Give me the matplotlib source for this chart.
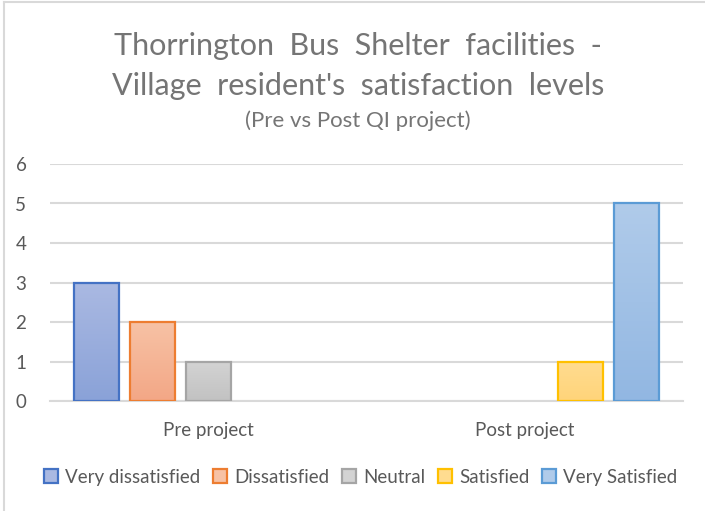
import numpy as np
import matplotlib.pyplot as plt
from matplotlib.lines import Line2D
from matplotlib.patches import Rectangle

plt.rcParams['font.family'] = ['Lato', 'DejaVu Sans']

categories = ['Pre project', 'Post project']
series = ['Very dissatisfied', 'Dissatisfied', 'Neutral', 'Satisfied', 'Very Satisfied']
values = [
    [3, 0],  # Very dissatisfied
    [2, 0],  # Dissatisfied
    [1, 0],  # Neutral
    [0, 1],  # Satisfied
    [0, 5],  # Very Satisfied
]
y_ticks = [0, 1, 2, 3, 4, 5, 6]

edge_colors = ['#4472C4', '#ED7D31', '#A5A5A5', '#FFC000', '#5B9BD5']
top_colors = ['#aab9e2', '#f7c2a5', '#d3d3d3', '#ffdc90', '#b0cbea']
bottom_colors = ['#8aa2d8', '#f3a786', '#c2c2c2', '#ffd47a', '#92b7e2']

text_gray = '#595959'
grid_gray = '#d9d9d9'

fig = plt.figure(figsize=(7.05, 5.11), dpi=100)
ax = fig.add_axes([50 / 705, 110 / 511, 633 / 705, 237 / 511])

x = np.arange(len(categories))
slot = 56 / 317
width = 45 / 317


def hex_rgb(h):
    h = h.lstrip('#')
    return np.array([int(h[i:i + 2], 16) / 255 for i in (0, 2, 4)])


for i, name in enumerate(series):
    pos = x + (i - 2) * slot
    bars = ax.bar(pos, values[i], width, color=top_colors[i], edgecolor='none',
                  linewidth=0, label=name, zorder=3)
    # vertical gradient fill like the Excel style
    t = np.linspace(0, 1, 64)[:, None]
    grad = (1 - t) * hex_rgb(top_colors[i]) + t * hex_rgb(bottom_colors[i])
    grad = grad[:, None, :]
    for b in bars:
        h = b.get_height()
        if h <= 0:
            continue
        im = ax.imshow(grad, extent=(b.get_x(), b.get_x() + b.get_width(), 0, h),
                       aspect='auto', origin='upper', zorder=3.5, interpolation='bilinear')
        im.set_clip_path(b)
        ax.add_patch(Rectangle((b.get_x(), 0), b.get_width(), h, fill=False,
                               edgecolor=edge_colors[i], linewidth=1.6, zorder=4))

ax.set_xlim(-0.5, 1.5)
ax.set_ylim(0, 6)
ax.set_yticks(y_ticks)
ax.set_xticks(x)
ax.set_xticklabels(categories)
ax.tick_params(axis='both', length=0, labelsize=13.5, labelcolor=text_gray)
ax.tick_params(axis='x', pad=15)
ax.tick_params(axis='y', pad=17)
ax.yaxis.grid(True, color=grid_gray, linewidth=1.5, zorder=0)
ax.set_axisbelow(True)
for s in ['top', 'right', 'left']:
    ax.spines[s].set_visible(False)
ax.spines['bottom'].set_color(grid_gray)
ax.spines['bottom'].set_linewidth(1.5)

fig.text(0.508, 1 - 46 / 511, 'Thorrington  Bus  Shelter  facilities  -', ha='center', va='center',
         fontsize=22, color='#757575')
fig.text(0.508, 1 - 86 / 511, "Village  resident's  satisfaction  levels", ha='center', va='center',
         fontsize=22, color='#757575')
fig.text(0.508, 1 - 121 / 511, '(Pre vs Post QI project)', ha='center', va='center',
         fontsize=16, color='#757575')

handles = [Line2D([], [], marker='s', linestyle='none', markersize=10,
                  markerfacecolor=top_colors[i], markeredgecolor=edge_colors[i],
                  markeredgewidth=1.6) for i in range(len(series))]
leg = fig.legend(handles, series, loc='center', bbox_to_anchor=(0.51, 1 - 477 / 511),
                 ncol=5, frameon=False, fontsize=13.5, handletextpad=0.25, columnspacing=0.55,
                 handlelength=1.0)
for t in leg.get_texts():
    t.set_color(text_gray)

# chart area border (top and left visible)
fig.add_artist(Line2D([3.5 / 705, 3.5 / 705], [0, 1 - 2.5 / 511], transform=fig.transFigure,
                      color=grid_gray, linewidth=1.5))
fig.add_artist(Line2D([3.5 / 705, 1], [1 - 2.5 / 511, 1 - 2.5 / 511], transform=fig.transFigure,
                      color=grid_gray, linewidth=1.5))

fig.savefig('out.png', dpi=100)
